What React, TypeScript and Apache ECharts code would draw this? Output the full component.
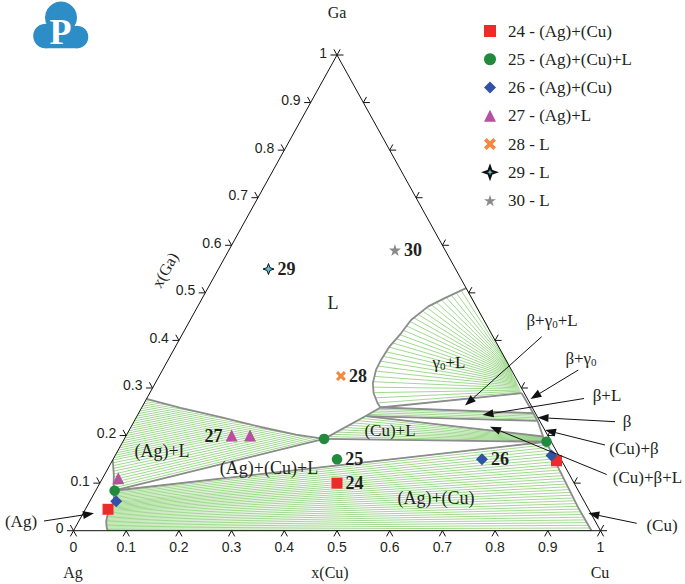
import React, { useEffect, useRef } from "react";
import * as echarts from "echarts";

// ---------------- data (ternary compositions: [x(Cu), x(Ga)]) ----------------
const tickValues = [0, 0.1, 0.2, 0.3, 0.4, 0.5, 0.6, 0.7, 0.8, 0.9, 1];
const tickLabels = ["0", "0.1", "0.2", "0.3", "0.4", "0.5", "0.6", "0.7", "0.8", "0.9", "1"];

const triangleCorners = [[0, 0], [1, 0], [0, 1], [0, 0]]; // Ag, Cu, Ga

const sampleNames = [
  "24 - (Ag)+(Cu)",
  "25 - (Ag)+(Cu)+L",
  "26 - (Ag)+(Cu)",
  "27 - (Ag)+L",
  "28 - L",
  "29 - L",
  "30 - L",
];
const sampleIds = ["24", "25", "26", "27", "28", "29", "30"];
const sample24 = [[0.45, 0.1], [0.043, 0.045], [0.843, 0.147]];
const sample25 = [[0.425, 0.15], [0.036, 0.084], [0.379, 0.193], [0.804, 0.187]];
const sample26 = [[0.7, 0.15], [0.05, 0.062], [0.828, 0.158]];
const sample27 = [[0.2, 0.2], [0.235, 0.2], [0.03, 0.11]];
const sample28 = [[0.345, 0.325]];
const sample29 = [[0.095, 0.55]];
const sample30 = [[0.315, 0.59]];

// invariant points of the isothermal section
const AgV = [0.034, 0.084];
const LV = [0.379, 0.193];
const CuV = [0.804, 0.187];
const L3 = [0.434, 0.241];
const L2 = [0.453, 0.259];
const Cu2 = [0.792, 0.198];
const betaLow = [0.765, 0.231];
const betaHigh = [0.749, 0.247];
const gammaLow = [0.706, 0.289];
const gammaHigh = [0.645, 0.355];
const agEdgeLow = [0, 0.149];
const agEdgeHigh = [0, 0.277];
const gaLiqEdge = [0.49, 0.51];

const agSolvus = [AgV, [0.046, 0.062], [0.046, 0.04], [0.052, 0.02], [0.06, 0.006], [0.065, 0]];
const agSolidus = [AgV, [0.018, 0.117], agEdgeLow, agEdgeHigh];
const agLiquidus = [LV, [0.321, 0.202], [0.246, 0.218], [0.16, 0.239], [0.074, 0.258], agEdgeHigh];
const cuSolvus = [CuV, [0.838, 0.149], [0.878, 0.107], [0.932, 0.05], [0.983, 0]];
const gammaLiquidus = [
  gaLiqEdge, [0.46, 0.489], [0.437, 0.471], [0.419, 0.443], [0.414, 0.415], [0.406, 0.387],
  [0.404, 0.359], [0.405, 0.338], [0.413, 0.31], [0.425, 0.289], [0.443, 0.268], L2,
];
const gammaSolidus = [gammaHigh, gammaLow];
const cuLiquidus = [LV, L3];
const cuSolidus = [CuV, Cu2];
const betaLiquidus = [L3, L2];
const betaSolidus = [betaLow, betaHigh];

const tieCounts = { agCu: 32, agL: 36, gammaL: 30, cuL: 10, betaL: 5 };

// ---------------- helpers ----------------
const SERIF = "'Liberation Serif', 'Times New Roman', serif";
const SANS = "'Liberation Sans', Arial, sans-serif";
const INK = "#231f20";
const GRID = { left: 73.5, top: 55, width: 527, height: 475.7 };

const toXY = (p: number[]) => [p[0] + p[1] / 2, p[1]];

function pointAt(poly: number[][], t: number) {
  const pts = poly.map(toXY);
  const cum = [0];
  for (let i = 1; i < pts.length; i++) {
    cum.push(
      cum[i - 1] +
        Math.hypot((pts[i][0] - pts[i - 1][0]) * GRID.width, (pts[i][1] - pts[i - 1][1]) * GRID.height)
    );
  }
  const d = t * cum[cum.length - 1];
  for (let i = 1; i < pts.length; i++) {
    if (d <= cum[i] || i === pts.length - 1) {
      const seg = cum[i] - cum[i - 1] || 1;
      const f = Math.min(1, Math.max(0, (d - cum[i - 1]) / seg));
      return [
        pts[i - 1][0] + (pts[i][0] - pts[i - 1][0]) * f,
        pts[i - 1][1] + (pts[i][1] - pts[i - 1][1]) * f,
      ];
    }
  }
  return pts[pts.length - 1];
}

function tieLines(a: number[][], b: number[][], n: number) {
  const out: any[] = [];
  for (let i = 0; i <= n; i++) {
    const t = i / n;
    out.push({ coords: [pointAt(a, t), pointAt(b, t)] });
  }
  return out;
}

const allTies = [
  ...tieLines(agSolvus, cuSolvus, tieCounts.agCu),
  ...tieLines(agSolidus, agLiquidus, tieCounts.agL),
  ...tieLines(gammaSolidus, gammaLiquidus, tieCounts.gammaL),
  ...tieLines(cuLiquidus, cuSolidus, tieCounts.cuL),
  ...tieLines(betaLiquidus, betaSolidus, tieCounts.betaL),
];

const triangleTies = [
  [AgV, LV], [AgV, CuV], [LV, CuV], [L3, Cu2], [L3, betaLow], [L2, betaHigh], [L2, gammaLow],
].map((s) => ({ coords: s.map(toXY) }));

const agBoundary = [...agSolvus.slice().reverse(), ...agSolidus.slice(1, 3)];
const liquidus = [...agLiquidus.slice().reverse(), L3, ...gammaLiquidus.slice().reverse()];
const cuSideBoundary = [gammaLow, betaHigh, betaLow, Cu2, ...cuSolvus];

const STAR4 = "path://M5,0 L6.3,3.7 L10,5 L6.3,6.3 L5,10 L3.7,6.3 L0,5 L3.7,3.7 Z";
const STAR5 =
  "path://M5,0 L6.18,3.62 L10,3.62 L6.91,5.86 L8.09,9.5 L5,7.24 L1.91,9.5 L3.09,5.86 L0,3.62 L3.82,3.62 Z";
const CROSS =
  "path://M2.2,0 L5,2.8 L7.8,0 L10,2.2 L7.2,5 L10,7.8 L7.8,10 L5,7.2 L2.2,10 L0,7.8 L2.8,5 L0,2.2 Z";

const sampleStyles = [
  { data: sample24, symbol: "rect", size: 11, color: "#ee2b2b", pos: "right" },
  { data: sample25, symbol: "circle", size: 10.5, color: "#218a3d", pos: "right" },
  { data: sample26, symbol: "diamond", size: 12, color: "#3152a6", pos: "right" },
  { data: sample27, symbol: "triangle", size: 12, color: "#b5519e", pos: "left" },
  { data: sample28, symbol: CROSS, size: 10, color: "#f5883c", pos: "right" },
  { data: sample29, symbol: STAR4, size: 11, color: "#5ec5d6", pos: "right", border: "#111" },
  { data: sample30, symbol: STAR5, size: 12, color: "#8a8a8a", pos: "right" },
];

// annotation layout (pixels)
const textItems = [
  { t: "Ga", x: 337, y: 12, s: 16 },
  { t: "Ag", x: 73, y: 572, s: 16 },
  { t: "Cu", x: 600, y: 572, s: 16 },
  { t: "x(Cu)", x: 330, y: 572, s: 16 },
  { t: "L", x: 333, y: 303, s: 18 },
  { t: "(Ag)+L", x: 162, y: 451, s: 18 },
  { t: "(Ag)+(Cu)+L", x: 269, y: 468, s: 18 },
  { t: "(Cu)+L", x: 390, y: 430, s: 17 },
  { t: "(Ag)+(Cu)", x: 436, y: 498, s: 18 },
  { t: "β+L", x: 607, y: 395, s: 17 },
  { t: "β", x: 627, y: 421.7, s: 17 },
  { t: "(Cu)+β", x: 634, y: 448, s: 17 },
  { t: "(Cu)+β+L", x: 647.5, y: 477, s: 17 },
  { t: "(Cu)", x: 662, y: 525.7, s: 17 },
  { t: "(Ag)", x: 21, y: 521, s: 17 },
];
const subTextItems = [
  { pre: "γ", post: "+L", x: 449, y: 362 },
  { pre: "β+γ", post: "+L", x: 552, y: 320 },
  { pre: "β+γ", post: "", x: 581, y: 358 },
];
const arrows = [
  { from: [541.7, 336.7], to: [465, 405.5] },
  { from: [578.3, 370], to: [530.5, 399] },
  { from: [584, 398.5], to: [482.5, 415] },
  { from: [615, 421.7], to: [537.5, 417.5] },
  { from: [605, 445], to: [545, 430] },
  { from: [606.7, 474.5], to: [490, 426.7] },
  { from: [636.7, 523.3], to: [588.3, 513.3] },
  { from: [44, 521], to: [94, 513.3] },
];

function arrowEl(a: { from: number[]; to: number[] }) {
  const [x0, y0] = a.from;
  const [x1, y1] = a.to;
  const len = Math.hypot(x1 - x0, y1 - y0);
  const ux = (x1 - x0) / len;
  const uy = (y1 - y0) / len;
  const hl = 11;
  const hw = 4;
  const bx = x1 - ux * hl;
  const by = y1 - uy * hl;
  return {
    type: "group",
    z: 100,
    children: [
      { type: "line", z: 100, shape: { x1: x0, y1: y0, x2: bx, y2: by }, style: { stroke: "#111", lineWidth: 1 } },
      {
        type: "polygon",
        z: 100,
        shape: { points: [[x1, y1], [bx - uy * hw, by + ux * hw], [bx + uy * hw, by - ux * hw]] },
        style: { fill: "#111" },
      },
    ],
  };
}

function textEl(t: string, x: number, y: number, s: number, rot = 0) {
  return {
    type: "text",
    z: 100,
    x,
    y,
    rotation: rot,
    style: {
      text: t,
      fill: INK,
      fontSize: s,
      fontFamily: SERIF,
      textAlign: "center",
      textVerticalAlign: "middle",
      align: "center",
      verticalAlign: "middle",
    },
  };
}

function subTextEl(pre: string, post: string, x: number, y: number) {
  const text = post ? `{a|${pre}}{b|0}{a|${post}}` : `{a|${pre}}{b|0}`;
  return {
    type: "text",
    z: 100,
    x,
    y,
    style: {
      text,
      textAlign: "center",
      textVerticalAlign: "middle",
      align: "center",
      verticalAlign: "middle",
      rich: {
        a: { fontSize: 17, fontFamily: SERIF, fill: INK, color: INK },
        b: { fontSize: 11, fontFamily: SERIF, fill: INK, color: INK, padding: [8, 0, 0, 0] },
      },
    },
  };
}

const logo = {
  type: "group",
  z: 100,
  children: [
    { type: "circle", shape: { cx: 61, cy: 17.5, r: 16 }, style: { fill: "#2d8dc6" } },
    { type: "circle", shape: { cx: 45.5, cy: 36, r: 12.3 }, style: { fill: "#2d8dc6" } },
    { type: "circle", shape: { cx: 77, cy: 37, r: 11.3 }, style: { fill: "#2d8dc6" } },
    { type: "rect", shape: { x: 45, y: 26, width: 33, height: 22.3 }, style: { fill: "#2d8dc6" } },
    {
      type: "text",
      x: 60.5,
      y: 32,
      style: {
        text: "P",
        fill: "#ffffff",
        fontSize: 36,
        fontWeight: "bold",
        fontFamily: SERIF,
        textAlign: "center",
        textVerticalAlign: "middle",
        align: "center",
        verticalAlign: "middle",
      },
    },
  ],
};

function renderTick(params: any, api: any) {
  const v = api.value(0);
  const i = params.dataIndex;
  const pb = api.coord([v, 0]);
  const pl = api.coord([v / 2, v]);
  const pr = api.coord([1 - v / 2, v]);
  const L = 6.5;
  const ux = 0.484;
  const uy = 0.875;
  const seg = (p: number[], dx: number, dy: number) => ({
    type: "line",
    shape: { x1: p[0], y1: p[1], x2: p[0] + dx * L, y2: p[1] + dy * L },
    style: { stroke: "#111", lineWidth: 1 },
  });
  const lab = (t: string, x: number, y: number, align: string) => ({
    type: "text",
    x,
    y,
    style: {
      text: t,
      fill: INK,
      fontSize: 14,
      fontFamily: SANS,
      textAlign: align,
      textVerticalAlign: "middle",
      align,
      verticalAlign: "middle",
    },
  });
  return {
    type: "group",
    children: [
      seg(pb, -ux, uy),
      seg(pb, ux, uy),
      seg(pl, -1, 0),
      seg(pl, -ux, -uy),
      seg(pr, 1, 0),
      seg(pr, ux, -uy),
      lab(tickLabels[i], pb[0], pb[1] + 16, "center"),
      lab(tickLabels[i], pl[0] - 10, pl[1] - 2.5, "right"),
    ],
  };
}

const boundaryLine = (name: string, pts: number[][]) => ({
  type: "line",
  name,
  data: pts.map(toXY),
  showSymbol: false,
  symbol: "none",
  clip: false,
  silent: true,
  z: 3,
  lineStyle: { color: "#8c8c8c", width: 1.8 },
});

const option: any = {
  animation: false,
  grid: { ...GRID },
  xAxis: { type: "value", min: 0, max: 1, show: false },
  yAxis: { type: "value", min: 0, max: 1, show: false },
  legend: {
    data: sampleNames,
    orient: "vertical",
    left: 478,
    top: 16,
    itemWidth: 12,
    itemHeight: 12,
    itemGap: 8.25,
    selectedMode: false,
    textStyle: { fontFamily: SERIF, fontSize: 17, color: INK, lineHeight: 20, padding: [0, 0, 0, 7] },
  },
  graphic: [
    logo,
    ...textItems.map((d) => textEl(d.t, d.x, d.y, d.s)),
    textEl("x(Ga)", 165, 270, 16, 1.066),
    ...subTextItems.map((d) => subTextEl(d.pre, d.post, d.x, d.y)),
    ...arrows.map(arrowEl),
  ],
  series: [
    {
      type: "lines",
      name: "tie lines",
      coordinateSystem: "cartesian2d",
      data: allTies,
      silent: true,
      z: 1,
      lineStyle: { color: "#8fd27a", width: 0.85, opacity: 1 },
    },
    {
      type: "lines",
      name: "three-phase triangles",
      coordinateSystem: "cartesian2d",
      data: triangleTies,
      silent: true,
      z: 3,
      lineStyle: { color: "#8c8c8c", width: 1.8, opacity: 1 },
    },
    boundaryLine("(Ag) boundary", agBoundary),
    boundaryLine("liquidus", liquidus),
    boundaryLine("Cu-side boundary", cuSideBoundary),
    {
      type: "line",
      name: "frame",
      data: triangleCorners.map(toXY),
      showSymbol: false,
      symbol: "none",
      clip: false,
      silent: true,
      z: 4,
      lineStyle: { color: "#111", width: 1 },
    },
    {
      type: "custom",
      name: "ticks",
      coordinateSystem: "cartesian2d",
      data: tickValues.map((v) => [v, 0]),
      clip: false,
      silent: true,
      z: 4,
      renderItem: renderTick,
    },
    ...sampleStyles.map((s, k) => ({
      type: "scatter",
      name: sampleNames[k],
      data: s.data.map((p, j) => ({
        value: toXY(p),
        label:
          j === 0
            ? {
                show: true,
                position: s.pos,
                distance: 3,
                formatter: sampleIds[k],
                fontFamily: SERIF,
                fontWeight: "bold",
                fontSize: 18,
                color: INK,
              }
            : { show: false },
      })),
      symbol: s.symbol,
      symbolSize: s.size,
      clip: false,
      z: 10,
      itemStyle: {
        color: s.color,
        opacity: 1,
        borderColor: s.border || s.color,
        borderWidth: s.border ? 1 : 0,
      },
    })),
  ],
};

export default function App() {
  const ref = useRef<HTMLDivElement>(null);
  useEffect(() => {
    document.body.style.margin = "0";
    const chart = echarts.init(ref.current as HTMLDivElement, undefined, { renderer: "svg" });
    chart.setOption(option);
    return () => chart.dispose();
  }, []);
  return <div ref={ref} style={{ width: 685, height: 584 }} />;
}
